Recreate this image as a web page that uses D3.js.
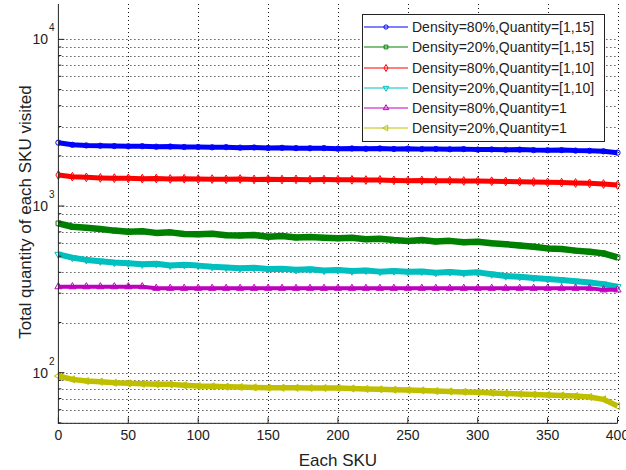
<!DOCTYPE html>
<html lang="en">
<head>
<meta charset="UTF-8">
<title>Total quantity of each SKU visited</title>
<script src="https://d3js.org/d3.v7.min.js"></script>
<style>
    body { margin: 0; background: #fff; }
    svg { display: block; font-family: "Liberation Sans", Arial, sans-serif; }
    .tick-label { font-size: 14px; fill: #222; }
    .axis-label { font-size: 17px; fill: #222; }
    .legend-text { font-size: 14px; fill: #222; }
</style>
</head>
<body>
<div id="chart"></div>
<script>
// x positions (every 10th SKU)
const sku = [0,10,20,30,40,50,60,70,80,90,100,110,120,130,140,150,160,170,180,190,200,
             210,220,230,240,250,260,270,280,290,300,310,320,330,340,350,360,370,380,390,400];

const d80q15 = [2400,2330,2310,2300,2290,2280,2285,2270,2275,2260,2260,2250,2255,2240,2245,2230,2235,2225,2220,2225,2210,
                2215,2205,2215,2200,2210,2195,2200,2190,2195,2180,2185,2175,2180,2165,2160,2165,2150,2145,2130,2090];
const d20q15 = [787,751,740,728,712,702,705,690,695,680,676,682,668,665,670,655,660,648,652,645,640,
                645,632,636,625,617,625,612,618,606,611,598,590,580,570,557,552,540,532,520,492];
const d80q10 = [1535,1500,1486,1475,1470,1466,1460,1462,1455,1458,1452,1450,1446,1452,1444,1448,1442,1445,1438,1442,1440,
                1436,1432,1435,1425,1420,1424,1418,1420,1414,1415,1408,1405,1400,1395,1387,1382,1375,1368,1355,1337];
const d20q10 = [513,490,475,466,458,453,447,450,440,444,439,432,428,423,426,419,421,414,418,410,413,
                407,411,404,408,403,405,398,402,396,400,390,380,376,370,365,360,354,348,340,328];
const d80q1  = [328,328,328,328,328,328,328,321,321,321,321,321,321,321,321,321,321,321,321,321,321,
                321,321,321,321,321,321,321,321,321,321,321,321,321,321,321,321,321,321,314,314];
const d20q1  = [95.5,91.2,89.1,88.3,87,86.3,85.8,85.3,85.1,84,83.2,82.8,82.4,82,81.6,81.3,81.2,81.1,81,80.9,80.9,
                80.4,79.9,79.5,79.1,78.7,78.3,77.6,77.2,76.7,76.2,75.6,75,74.5,74,73.5,73,72.4,71.5,69.2,63.1];

const seriesNames = ["Density=80%,Quantity=[1,15]", "Density=20%,Quantity=[1,15]",
                     "Density=80%,Quantity=[1,10]", "Density=20%,Quantity=[1,10]",
                     "Density=80%,Quantity=1", "Density=20%,Quantity=1"];
const seriesValues = [d80q15, d20q15, d80q10, d20q10, d80q1, d20q1];
const seriesColors = ["#0000ff", "#008000", "#ff0000", "#00bfbf", "#bf00bf", "#bfbf00"];
const seriesMarkers = ["circle", "square", "diamond", "down", "up", "left"];
const bandWidth = [5, 6.5, 5, 6, 4, 5.5];

const xTicks = [0,50,100,150,200,250,300,350,400];
const yDecades = [2,3,4];

const W = 626, H = 470;
const plotL = 58.4, plotR = 617.5, plotT = 4, plotB = 423.3;

const svg = d3.select("#chart").append("svg")
    .attr("width", W).attr("height", H);

const x = d3.scaleLinear().domain([0, 400]).range([plotL, plotR]);
const y = d3.scaleLog().domain([49.7, 16300]).range([plotB, plotT]);

// grid lines
const gridVals = [];
for (let e = 1; e <= 4; e++) {
    for (let m = 1; m <= 9; m++) {
        const v = m * Math.pow(10, e);
        if (v >= 50 && v <= 16300) gridVals.push(v);
    }
}
const grid = svg.append("g")
    .attr("stroke", "#111").attr("stroke-width", 1).attr("stroke-dasharray", "1,3");
grid.selectAll("line.h").data(gridVals).enter().append("line")
    .attr("x1", plotL).attr("x2", plotR)
    .attr("y1", d => Math.round(y(d)) + 0.5).attr("y2", d => Math.round(y(d)) + 0.5);
grid.selectAll("line.v").data(xTicks.slice(1)).enter().append("line")
    .attr("x1", d => Math.round(x(d)) + 0.5).attr("x2", d => Math.round(x(d)) + 0.5)
    .attr("y1", plotT).attr("y2", plotB);

function markerPath(kind, size) {
    if (kind === "circle") return d3.symbol(d3.symbolCircle, size)();
    if (kind === "square") return d3.symbol(d3.symbolSquare, size)();
    if (kind === "diamond") return d3.symbol(d3.symbolDiamond, size)();
    return d3.symbol(d3.symbolTriangle, size)();
}
function markerRot(kind) {
    if (kind === "down") return 180;
    if (kind === "left") return -90;
    return 0;
}

const line = d3.line().x((d, i) => x(sku[i])).y(d => y(d)).curve(d3.curveLinear);

seriesValues.forEach((vals, k) => {
    const g = svg.append("g");
    g.append("path")
        .attr("d", line(vals))
        .attr("fill", "none")
        .attr("stroke", seriesColors[k])
        .attr("stroke-width", bandWidth[k])
        .attr("stroke-linejoin", "round");
    g.selectAll("path.m").data(vals).enter().append("path")
        .attr("d", markerPath(seriesMarkers[k], 22))
        .attr("transform", (d, i) => `translate(${x(sku[i])},${y(d)}) rotate(${markerRot(seriesMarkers[k])})`)
        .attr("fill", "none")
        .attr("stroke", seriesColors[k])
        .attr("stroke-width", 1);
});

// axes
const axis = svg.append("g").attr("stroke", "#222").attr("stroke-width", 1);
axis.append("line").attr("x1", plotL).attr("x2", plotL).attr("y1", plotT).attr("y2", plotB + 0.5);
axis.append("line").attr("x1", plotL).attr("x2", plotR).attr("y1", plotB).attr("y2", plotB);

axis.selectAll("line.xt").data(xTicks).enter().append("line")
    .attr("x1", d => x(d)).attr("x2", d => x(d))
    .attr("y1", plotB).attr("y2", plotB - 6);

axis.selectAll("line.ymin").data(gridVals).enter().append("line")
    .attr("x1", plotL).attr("x2", d => yDecades.includes(Math.log10(d)) ? plotL + 6 : plotL + 3)
    .attr("y1", d => y(d)).attr("y2", d => y(d));

svg.selectAll("text.xl").data(xTicks).enter().append("text")
    .attr("class", "tick-label")
    .attr("x", d => x(d)).attr("y", 440)
    .attr("text-anchor", "middle")
    .text(d => d);

yDecades.forEach(e => {
    const yy = y(Math.pow(10, e));
    svg.append("text").attr("class", "tick-label")
        .attr("x", 48).attr("y", yy + 5).attr("text-anchor", "end").text("10");
    svg.append("text").attr("class", "tick-label")
        .style("font-size", "10px")
        .attr("x", 49).attr("y", yy - 8).text(e);
});

svg.append("text").attr("class", "axis-label")
    .attr("x", (plotL + plotR) / 2).attr("y", 466)
    .attr("text-anchor", "middle").text("Each SKU");

svg.append("text").attr("class", "axis-label")
    .attr("transform", "translate(31,212) rotate(-90)")
    .attr("text-anchor", "middle").text("Total quantity of each SKU visited");

// legend
const lg = svg.append("g");
lg.append("rect")
    .attr("x", 362.5).attr("y", 14.5).attr("width", 242).attr("height", 127)
    .attr("fill", "#fff").attr("stroke", "#222").attr("stroke-width", 1);
const legendY = [27, 47, 68, 88, 108, 128];
seriesNames.forEach((name, k) => {
    const ly = legendY[k];
    lg.append("line")
        .attr("x1", 364).attr("x2", 408).attr("y1", ly).attr("y2", ly)
        .attr("stroke", seriesColors[k]).attr("stroke-width", 1);
    lg.append("path")
        .attr("d", markerPath(seriesMarkers[k], 14))
        .attr("transform", `translate(386,${ly}) rotate(${markerRot(seriesMarkers[k])})`)
        .attr("fill", "none").attr("stroke", seriesColors[k]).attr("stroke-width", 1);
    lg.append("text").attr("class", "legend-text")
        .attr("x", 412).attr("y", ly + 5).text(name);
});
</script>
</body>
</html>
